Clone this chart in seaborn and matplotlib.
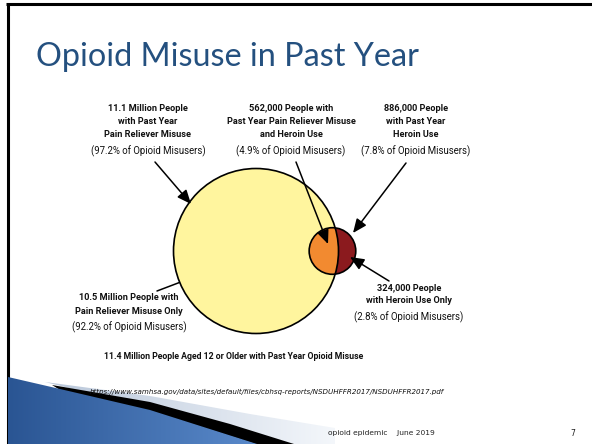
import math
import numpy as np
import matplotlib
matplotlib.use("Agg")
import matplotlib.pyplot as plt
from matplotlib.patches import Circle, Polygon
import seaborn as sns

# ---------------- data (thousands of people aged 12+) ----------------
sets = ["Pain Reliever Misuse", "Heroin Use"]
set_totals = [11100, 886]            # past-year pain reliever misuse, heroin use
overlap_total = 562                  # both
only_totals = [10500, 324]           # pain reliever only, heroin only
all_misusers = 11400
pct_pain, pct_both, pct_heroin = 97.2, 4.9, 7.8
pct_pain_only, pct_heroin_only = 92.2, 2.8

title = "Opioid Misuse in Past Year"
top_labels = [
    ["11.1 Million People", "with Past Year", "Pain Reliever Misuse"],
    ["562,000 People with", "Past Year Pain Reliever Misuse", "and Heroin Use"],
    ["886,000 People", "with Past Year", "Heroin Use"],
]
top_pcts = [pct_pain, pct_both, pct_heroin]
bottom_caption = "11.4 Million People Aged 12 or Older with Past Year Opioid Misuse"
source_url = "https://www.samhsa.gov/data/sites/default/files/cbhsq-reports/NSDUHFFR2017/NSDUHFFR2017.pdf"
footer_text = "opioid epidemic    June 2019"
page_no = "7"

# ---------------- style ----------------
sns.set_theme(style="white")
plt.rcParams["font.family"] = ["DejaVu Sans"]
narrow = ["Roboto", "Liberation Sans", "DejaVu Sans"]

C_BIG = "#FFF59E"
C_BOTH = "#F28A30"
C_HER = "#8B1A1E"
C_TITLE = "#24507F"

fig = plt.figure(figsize=(5.92, 4.44), dpi=100)
fig.patch.set_facecolor("white")
ax = fig.add_axes([0, 0, 1, 1])
ax.set_xlim(0, 592)
ax.set_ylim(444, 0)
ax.set_aspect("equal")
ax.axis("off")

# ---------------- slide decoration ----------------
ax.plot([6, 592], [4.5, 4.5], color="black", lw=2.2, solid_capstyle="butt", zorder=1)
ax.plot([7.5, 7.5], [4, 444], color="black", lw=2.2, solid_capstyle="butt", zorder=1)

def gradient_fill(poly_pts, c0, c1, x0, x1, z):
    poly = Polygon(poly_pts, closed=True, facecolor="none", edgecolor="none", zorder=z)
    ax.add_patch(poly)
    t = np.clip((np.arange(592) - x0) / (x1 - x0), 0, 1)
    a = np.array(matplotlib.colors.to_rgb(c0))
    b = np.array(matplotlib.colors.to_rgb(c1))
    row = a[None, :] * (1 - t[:, None]) + b[None, :] * t[:, None]
    img = np.repeat(row[None, :, :], 2, axis=0)
    im = ax.imshow(img, extent=[0, 592, 444, 0], aspect="auto", zorder=z,
                   interpolation="bilinear")
    im.set_clip_path(poly)

gradient_fill([(45, 382), (150, 396), (250, 414), (335, 428), (335, 444), (290, 444)],
              "#b9c7da", "#f4f7fb", 45, 335, 1)
ax.add_patch(Polygon([(52, 385), (150, 402), (230, 424), (294, 444), (255, 444),
                      (150, 411), (60, 390)], closed=True, facecolor="black",
                     edgecolor="none", zorder=2))
gradient_fill([(8, 377), (60, 389), (150, 410), (257, 444), (8, 444)],
              "#2a5593", "#5a8acb", 8, 260, 2)

# ---------------- venn circles (area proportional to people) ----------------
scale = 82.5 / math.sqrt(set_totals[0])
R = scale * math.sqrt(set_totals[0])
r = scale * math.sqrt(set_totals[1])

def lens_area(d, R, r):
    a1 = r * r * math.acos((d * d + r * r - R * R) / (2 * d * r))
    a2 = R * R * math.acos((d * d + R * R - r * r) / (2 * d * R))
    a3 = 0.5 * math.sqrt((-d + r + R) * (d + r - R) * (d - r + R) * (d + r + R))
    return a1 + a2 - a3

target = overlap_total / set_totals[1] * math.pi * r * r
lo, hi = R - r + 1e-6, R + r - 1e-6
for _ in range(80):
    mid = (lo + hi) / 2
    if lens_area(mid, R, r) > target:
        lo = mid
    else:
        hi = mid
d = (lo + hi) / 2

cx, cy = 256.0, 251.0
sx = cx + d

ax.add_patch(Circle((cx, cy), R, facecolor=C_BIG, edgecolor="none", zorder=3))
ax.add_patch(Circle((sx, cy), r, facecolor=C_HER, edgecolor="none", zorder=4))
both = Circle((sx, cy), r, facecolor=C_BOTH, edgecolor="none", zorder=5)
ax.add_patch(both)
clipper = Circle((cx, cy), R, transform=ax.transData, facecolor="none", edgecolor="none")
ax.add_patch(clipper)
both.set_clip_path(clipper)
ax.add_patch(Circle((cx, cy), R, facecolor="none", edgecolor="black", lw=1.2, zorder=6))
ax.add_patch(Circle((sx, cy), r, facecolor="none", edgecolor="black", lw=1.2, zorder=6))

# ---------------- text ----------------
ax.text(36, 57, title, fontsize=23.3, color=C_TITLE, family=["Lato", "DejaVu Sans"],
        ha="left", va="center", zorder=10)

bold_kw = dict(family=narrow, fontsize=6.6, fontweight="bold", ha="center", va="center",
               color="#111111", zorder=10)
pct_kw = dict(family=narrow, fontsize=6.9, ha="center", va="center", color="#111111", zorder=10)
top_x = [148, 291, 416]
for x, lines, p in zip(top_x, top_labels, top_pcts):
    for i, s in enumerate(lines):
        ax.text(x, 108 + 13 * i, s, **bold_kw)
    ax.text(x, 151, f"({p}% of Opioid Misusers)", **pct_kw)

bl = [f"{only_totals[0] / 1000:.1f} Million People with", "Pain Reliever Misuse Only"]
ax.text(129, 297, bl[0], **bold_kw)
ax.text(129, 311, bl[1], **bold_kw)
ax.text(129, 327, f"({pct_pain_only}% of Opioid Misusers)", **pct_kw)

br = [f"{only_totals[1]:,},000 People", "with Heroin Use Only"]
ax.text(409, 288, br[0], **bold_kw)
ax.text(409, 300, br[1], **bold_kw)
ax.text(409, 317, f"({pct_heroin_only}% of Opioid Misusers)", **pct_kw)

ax.text(234, 356, bottom_caption, family=narrow, fontsize=6.3, fontweight="bold",
        ha="center", va="center", color="#111111", zorder=10)
ax.text(267, 392, source_url, fontsize=5.1, style="italic", ha="center", va="center",
        color="#111111", zorder=10)
ax.text(328, 433, footer_text, fontsize=5.4, ha="left", va="center", color="#222222", zorder=10)
ax.text(573, 433, page_no, fontsize=5.6, ha="center", va="center", color="#222222", zorder=10)

# ---------------- arrows ----------------
def arrow(p0, p1):
    ax.annotate("", xy=p1, xytext=p0, zorder=9,
                arrowprops=dict(arrowstyle="-|>,head_length=0.7,head_width=0.3",
                                color="black", lw=1.1, shrinkA=0, shrinkB=0))

arrow((155, 162), (191, 204))
arrow((296, 162), (328, 244))
arrow((406, 163), (353, 233))
arrow((389, 281), (350, 257))
ax.plot([157, 186], [291, 280], color="black", lw=1.1, zorder=2.5)

fig.savefig("out.png", dpi=100)
